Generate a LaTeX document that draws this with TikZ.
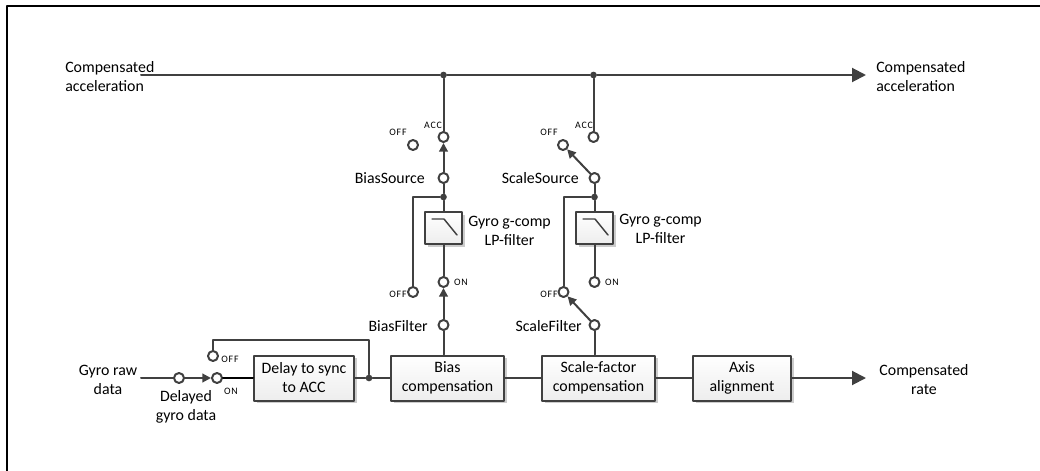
\documentclass[tikz,border=0pt]{standalone}
\usepackage{fontspec}
\setmainfont{Carlito}
\usetikzlibrary{arrows.meta,shadows}
\definecolor{wirecol}{HTML}{404040}
\tikzset{
	wire/.style={draw=wirecol, line width=1.5pt},
	sigarrow/.style={wire, -{Triangle[length=10.5pt,width=10.5pt]}},
	swarrow/.style={wire, -{Triangle[length=6.5pt,width=6.5pt]}},
	term/.style={circle, draw=wirecol, line width=1.5pt, fill=white, inner sep=0pt, minimum size=7.5pt},
	junct/.style={circle, fill=wirecol, inner sep=0pt, minimum size=5pt},
	blockbox/.style={draw=wirecol, line width=1.5pt, top color=white, bottom color=black!7, align=center,
		minimum height=33.75pt, inner sep=0pt, font=\fontsize{11.9}{14.25}\selectfont,
		drop shadow={shadow xshift=2pt, shadow yshift=-2pt, opacity=0.2, fill=black}},
	lbl/.style={inner sep=0pt, align=center, font=\fontsize{11.9}{14.25}\selectfont},
	tiny/.style={inner sep=0pt, font=\fontsize{7.4}{8}\selectfont\addfontfeatures{LetterSpace=8}}
}
\begin{document}
\begin{tikzpicture}[x=0.75pt, y=-0.75pt, line cap=round, line join=round]
	\useasboundingbox (0,0) rectangle (1040,471);
	%Frame
	\draw[black, line width=1.6pt, line cap=butt] (7,471) -- (7,6) -- (1040,6);

	%Coordinates
	\coordinate (accIn) at (141,75);
	\coordinate (accOut) at (866,75);
	\coordinate (gyroIn) at (141,378);
	\coordinate (rateOut) at (866,378);
	\coordinate (bypass) at (369,340);

	%Blocks
	\node[blockbox, minimum width=75pt] (delay) at (304,378) {Delay to sync\\to ACC};
	\node[blockbox, minimum width=84.75pt] (bias) at (447.5,378) {Bias\\compensation};
	\node[blockbox, minimum width=84.75pt] (scale) at (598.5,378) {Scale-factor\\compensation};
	\node[blockbox, minimum width=73.5pt] (axis) at (742,378) {Axis\\alignment};
	\node[blockbox, minimum width=27.75pt, minimum height=24pt] (biasLP) at (443.5,228) {};
	\node[blockbox, minimum width=27.75pt, minimum height=24pt] (scaleLP) at (594.5,228) {};

	%Junctions
	\node[junct] (jBiasTop) at (443.5,75) {};
	\node[junct] (jScaleTop) at (593.5,75) {};
	\node[junct] (jBias) at (443.5,197) {};
	\node[junct] (jScale) at (594.5,197) {};
	\node[junct] (jDelay) at (369,378) {};

	%Switch terminals
	\node[term] (biasAcc) at (443.5,137) {};
	\node[term] (biasOff) at (413,145) {};
	\node[term] (biasSrc) at (443.5,178) {};
	\node[term] (biasOn) at (443.5,282) {};
	\node[term] (biasLow) at (413,292) {};
	\node[term] (biasFlt) at (443.5,325) {};

	\node[term] (scaleAcc) at (593.5,137) {};
	\node[term] (scaleOff) at (563,145) {};
	\node[term] (scaleSrc) at (594.5,178) {};
	\node[term] (scaleOn) at (594.5,282) {};
	\node[term] (scaleLow) at (563.5,292) {};
	\node[term] (scaleFlt) at (594.5,325) {};

	\node[term] (delayTap) at (179,378) {};
	\node[term] (delayOn) at (217,378) {};
	\node[term] (delayOff) at (213,356) {};

	%Main lines
	\draw[wire] (accIn) -- (jBiasTop) -- (jScaleTop);
	\draw[sigarrow] (jScaleTop) -- (accOut);
	\draw[wire] (gyroIn) -- (delayTap);
	\draw[swarrow] (delayTap) -- (delayOn);
	\draw[wire, black] (delayOn) -- (delay);
	\draw[wire] (delay) -- (jDelay) -- (bias);
	\draw[wire] (delayOff) |- (bypass) -- (jDelay);
	\draw[wire] (bias) -- (scale);
	\draw[wire] (scale) -- (axis);
	\draw[sigarrow] (axis) -- (rateOut);

	%Bias branch
	\draw[wire] (jBiasTop) -- (biasAcc);
	\draw[swarrow] (biasSrc) -- (biasAcc);
	\draw[wire] (biasSrc) -- (jBias) -- (biasLP);
	\draw[wire] (jBias) -| (biasLow);
	\draw[wire] (biasLP) -- (biasOn);
	\draw[swarrow] (biasFlt) -- (biasOn);
	\draw[wire] (biasFlt) -- (biasFlt |- bias.north);

	%Scale branch
	\draw[wire] (jScaleTop) -- (scaleAcc);
	\draw[swarrow] (scaleSrc) -- (scaleOff);
	\draw[wire] (scaleSrc) -- (jScale) -- (scaleLP);
	\draw[wire] (jScale) -| (scaleLow);
	\draw[wire] (scaleLP) -- (scaleOn);
	\draw[swarrow] (scaleFlt) -- (scaleLow);
	\draw[wire] (scaleFlt) -- (scaleFlt |- scale.north);

	%LP symbols
	\draw[wire, line width=1.1pt] (432,219) -- (444,219) -- (457,235);
	\draw[wire, line width=1.1pt] (583,219) -- (595,219) -- (608,235);

	%Labels
	\node[lbl, align=left, anchor=west] (accInLbl) at (65,76.5) {Compensated\\acceleration};
	\node[lbl, align=left, anchor=west] (accOutLbl) at (876,76.5) {Compensated\\acceleration};
	\node[lbl] (gyroLbl) at (108,380) {Gyro raw\\data};
	\node[lbl] (tapLbl) at (186,407) {Delayed\\gyro data};
	\node[lbl] (rateLbl) at (924,379.5) {Compensated\\rate};
	\node[lbl, anchor=east] (bsLbl) at (425,178.5) {BiasSource};
	\node[lbl, anchor=east] (ssLbl) at (579,178.5) {ScaleSource};
	\node[lbl, anchor=east] (bfLbl) at (428,326) {BiasFilter};
	\node[lbl, anchor=east] (sfLbl) at (582,326) {ScaleFilter};
	\node[lbl] (bLPLbl) at (509.5,231) {Gyro g-comp\\LP-filter};
	\node[lbl] (sLPLbl) at (660.5,228.5) {Gyro g-comp\\LP-filter};

	\node[tiny] (t1) at (433,125) {ACC};
	\node[tiny] (t2) at (584,125) {ACC};
	\node[tiny] (t3) at (398,132) {OFF};
	\node[tiny] (t4) at (549,132) {OFF};
	\node[tiny] (t5) at (461,282) {ON};
	\node[tiny] (t6) at (612,282) {ON};
	\node[tiny] (t7) at (398,294) {OFF};
	\node[tiny] (t8) at (549,294) {OFF};
	\node[tiny] (t9) at (230,359) {OFF};
	\node[tiny] (t10) at (231,391) {ON};
\end{tikzpicture}
\end{document}
